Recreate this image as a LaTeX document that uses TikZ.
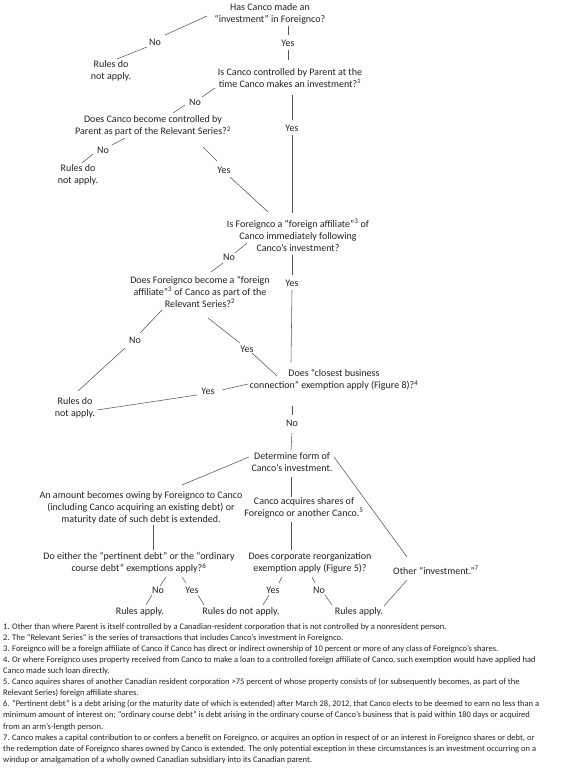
\documentclass[tikz,border=0pt]{standalone}
\usepackage{fontspec}
\setmainfont{Carlito}
\usetikzlibrary{calc}
\definecolor{txt}{HTML}{222222}
\definecolor{ln}{HTML}{555555}
\newcommand\linkup[4]{\draw[conn] ($(#1)+(#2)$) -- ($(#3)+(#4)$);}
\begin{document}
\begin{tikzpicture}[x=1pt,y=-1pt,
  box/.style={font=\fontsize{10}{12}\selectfont, inner sep=1.5pt, align=center, text=txt},
  yn/.style={font=\fontsize{10}{12}\selectfont, inner sep=1.5pt, text=txt},
  conn/.style={draw=ln, line width=0.55pt}]
\useasboundingbox[fill=white] (0,0) rectangle (580,768);

\node[box] (q1) at (270,14) {Has Canco made an\\“investment” in Foreignco?};
\node[yn] (n1) at (155,42) {No};
\node[box] (r1) at (111,71) {Rules do\\not apply.};
\node[yn] (y1) at (288,43) {Yes};
\node[box] (q2) at (290,78) {Is Canco controlled by Parent at the\\time Canco makes an investment?\textsuperscript{1}};
\node[yn] (n2) at (195,102) {No};
\node[yn] (y2) at (292,128) {Yes};
\node[box] (q3) at (153,126) {Does Canco become controlled by\\Parent as part of the Relevant Series?\textsuperscript{2}};
\node[yn] (n3) at (103,150) {No};
\node[box] (r2) at (78,175) {Rules do\\not apply.};
\node[yn] (y3) at (224,170) {Yes};
\node[box] (q4) at (298,235) {Is Foreignco a “foreign affiliate”\textsuperscript{3} of\\Canco immediately following\\Canco’s investment?};
\node[yn] (n4) at (229,257) {No};
\node[yn] (y4) at (292,283) {Yes};
\node[box] (q5) at (200,292) {Does Foreignco become a “foreign\\affiliate”\textsuperscript{3} of Canco as part of the\\Relevant Series?\textsuperscript{2}};
\node[yn] (n5) at (135,340) {No};
\node[yn] (y5) at (247,349) {Yes};
\node[box] (r3) at (75,408) {Rules do\\not apply.};
\node[box] (q6) at (334,380) {Does “closest business\\connection” exemption apply (Figure 8)?\textsuperscript{4}};
\node[yn] (y6) at (208,391) {Yes};
\node[yn] (n6) at (292,423) {No};
\node[box] (det) at (292,462) {Determine form of\\Canco’s investment.};
\node[box] (debt) at (141,508) {An amount becomes owing by Foreignco to Canco\\(including Canco acquiring an existing debt) or\\maturity date of such debt is extended.};
\node[box] (acq) at (304,508) {Canco acquires shares of\\Foreignco or another Canco.\textsuperscript{5}};
\node[box] (de) at (139,563) {Do either the “pertinent debt” or the “ordinary\\course debt” exemptions apply?\textsuperscript{6}};
\node[box] (cr) at (310,563) {Does corporate reorganization\\exemption apply (Figure 5)?};
\node[box] (oth) at (436,570) {Other “investment.”\textsuperscript{7}};
\node[yn] (n7) at (158,590) {No};
\node[yn] (y7) at (192,590) {Yes};
\node[yn] (y8) at (273,590) {Yes};
\node[yn] (n8) at (319,590) {No};
\node[box] (ra1) at (140,612) {Rules apply.};
\node[box] (rdna) at (241,612) {Rules do not apply.};
\node[box] (ra2) at (359,612) {Rules apply.};

\linkup{q1}{-63,2}{n1}{10,-7}
\linkup{n1}{-8,5}{r1}{6,-12}
\linkup{q1}{18,12}{y1}{0,-8}
\linkup{y1}{0,7}{q2}{-2,-18}
\linkup{q2}{-75,10}{n2}{7,-5}
\linkup{n2}{-10,3}{q3}{20,-13}
\linkup{q2}{2,17}{y2}{0,-8}
\linkup{y2}{0,7}{q4}{-6,-22}
\linkup{q3}{-28,12}{n3}{9,-5}
\linkup{n3}{-10,4}{r2}{4,-12}
\linkup{q3}{50,21}{y3}{-7,-9}
\linkup{y3}{6,7}{q4}{-30,-23}
\linkup{q4}{-51,8}{n4}{6,-4}
\linkup{n4}{-6,6}{q5}{11,-20}
\linkup{q4}{-6,20}{y4}{0,-8}
\linkup{y4}{0,7}{q6}{-43,-18}
\linkup{q5}{-38,18}{n5}{5,-7}
\linkup{n5}{-10,8}{r3}{3,-17}
\linkup{q5}{8,26}{y5}{-7,-6}
\linkup{y5}{5,4}{q6}{-57,-4}
\linkup{q6}{-86,4}{y6}{14,-1}
\linkup{y6}{-11,4}{r3}{22,2}
\linkup{q6}{-42,26}{n6}{0,-8}
\linkup{n6}{0,10}{det}{-1,-12}
\linkup{det}{-43,-5}{debt}{41,-23}
\linkup{det}{-1,15}{acq}{-13,-11}
\linkup{det}{42,-5}{oth}{-29,-13}
\linkup{debt}{12,17}{de}{14,-13}
\linkup{acq}{-13,14}{cr}{-19,-13}
\linkup{de}{27,14}{n7}{2,-4}
\linkup{n7}{-6,5}{ra1}{6,-7}
\linkup{de}{43,14}{y7}{-6,-7}
\linkup{y7}{6,5}{rdna}{-37,-7}
\linkup{cr}{-28,14}{y8}{6,-7}
\linkup{y8}{-4,5}{rdna}{22,-7}
\linkup{cr}{2,14}{n8}{-4,-7}
\linkup{n8}{6,5}{ra2}{-27,-7}
\linkup{oth}{-29,10}{ra2}{25,-6}

\node[anchor=north west, inner sep=0pt, align=left, text=txt,
  font=\fontsize{8.5}{11.1}\selectfont] (fn) at (3,623) {%
1. Other than where Parent is itself controlled by a Canadian-resident corporation that is not controlled by a nonresident person.\\
2. The “Relevant Series” is the series of transactions that includes Canco’s investment in Foreignco.\\
3. Foreignco will be a foreign affiliate of Canco if Canco has direct or indirect ownership of 10 percent or more of any class of Foreignco’s shares.\\
4. Or where Foreignco uses property received from Canco to make a loan to a controlled foreign affiliate of Canco, such exemption would have applied had\\
Canco made such loan directly.\\
5. Canco aquires shares of another Canadian resident corporation >75 percent of whose property consists of (or subsequently becomes, as part of the\\
Relevant Series) foreign affiliate shares.\\
6. “Pertinent debt” is a debt arising (or the maturity date of which is extended) after March 28, 2012, that Canco elects to be deemed to earn no less than a\\
minimum amount of interest on; “ordinary course debt” is debt arising in the ordinary course of Canco’s business that is paid within 180 days or acquired\\
from an arm’s-length person.\\
7. Canco makes a capital contribution to or confers a benefit on Foreignco, or acquires an option in respect of or an interest in Foreignco shares or debt, or\\
the redemption date of Foreignco shares owned by Canco is extended. The only potential exception in these circumstances is an investment occurring on a\\
windup or amalgamation of a wholly owned Canadian subsidiary into its Canadian parent.};
\end{tikzpicture}
\end{document}
